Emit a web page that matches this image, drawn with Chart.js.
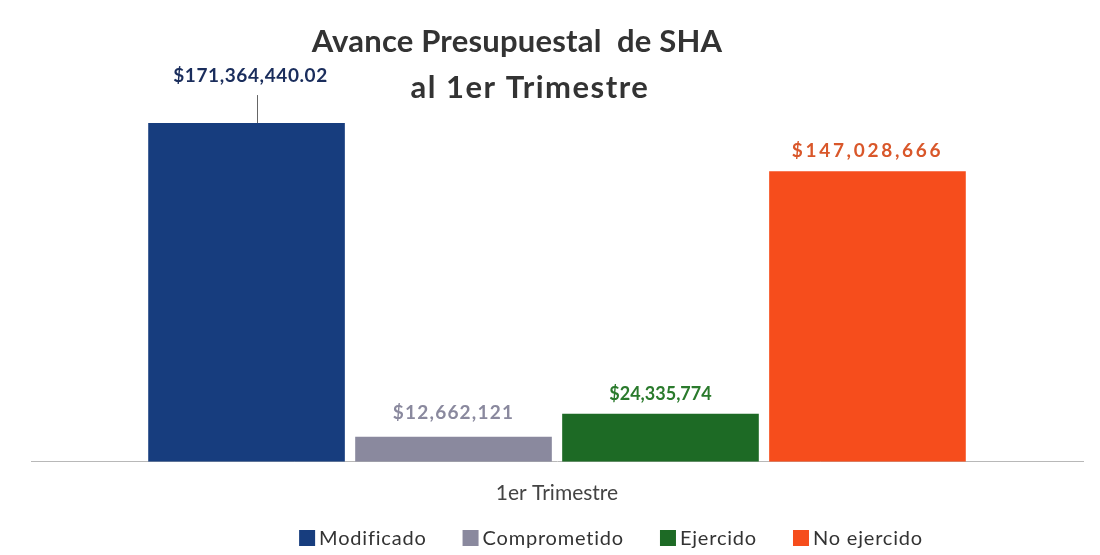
<!DOCTYPE html>
<html>
<head>
<meta charset="utf-8">
<script src="https://cdn.jsdelivr.net/npm/chart.js@4.4.1/dist/chart.umd.min.js"></script>
<style>
  html, body { margin: 0; padding: 0; background: #ffffff; }
  #wrap { width: 1100px; height: 555px; position: relative; }
</style>
</head>
<body>
<div id="wrap"><canvas id="c" width="1100" height="555"></canvas></div>
<script>
const categories = ['1er Trimestre'];
const seriesNames = ['Modificado', 'Comprometido', 'Ejercido', 'No ejercido'];
const seriesValues = [171364440.02, 12662121, 24335774, 147028666];
const valueLabels = ['$171,364,440.02', '$12,662,121', '$24,335,774', '$147,028,666'];
const titleLines = ['Avance Presupuestal  de SHA', 'al 1er Trimestre'];

const barColors = ['#173d7e', '#8a899e', '#1d6a25', '#f64d1c'];
const labelColors = ['#1a2d5c', '#8a899e', '#2a7a2c', '#d9572a'];
const labelSizes = [19, 19, 18, 19];
const labelSpacing = [0.6, 1.2, 0, 2.7];
const labelGap = [47, 24, 20, 20];

const FONT = 'Lato, "Open Sans", sans-serif';

const datasets = seriesNames.map((name, i) => ({
  label: name,
  data: [seriesValues[i]],
  backgroundColor: barColors[i],
  borderWidth: 0
}));

const labelPlugin = {
  id: 'valueLabels',
  afterDatasetsDraw(chart) {
    const ctx = chart.ctx;
    chart.data.datasets.forEach((ds, i) => {
      const el = chart.getDatasetMeta(i).data[0];
      if (!el) return;
      ctx.save();
      ctx.textAlign = 'center';
      ctx.textBaseline = 'middle';
      ctx.fillStyle = labelColors[i];
      ctx.font = 'bold ' + labelSizes[i] + 'px ' + FONT;
      ctx.letterSpacing = labelSpacing[i] + 'px';
      let x = el.x;
      if (i === 0) {
        ctx.strokeStyle = '#666';
        ctx.lineWidth = 1;
        ctx.beginPath();
        ctx.moveTo(Math.round(el.x + 10) + 0.5, el.y);
        ctx.lineTo(Math.round(el.x + 10) + 0.5, el.y - 28);
        ctx.stroke();
        x = el.x + 4;
      }
      ctx.fillText(valueLabels[i], x, el.y - labelGap[i]);
      ctx.restore();
    });
  }
};

const titlePlugin = {
  id: 'manualTitle',
  afterDraw(chart) {
    const ctx = chart.ctx;
    ctx.save();
    ctx.fillStyle = '#333333';
    ctx.textAlign = 'center';
    ctx.textBaseline = 'middle';
    ctx.font = 'bold 31px ' + FONT;
    ctx.letterSpacing = '0.2px';
    ctx.fillText(titleLines[0], 517, 42);
    ctx.letterSpacing = '1.5px';
    ctx.fillText(titleLines[1], 530, 88);
    ctx.restore();
  }
};

const legendPlugin = {
  id: 'manualLegend',
  afterDraw(chart) {
    const ctx = chart.ctx;
    ctx.save();
    ctx.font = '20px ' + FONT;
    ctx.letterSpacing = '0.8px';
    ctx.textBaseline = 'middle';
    ctx.textAlign = 'left';
    const box = 16, boxGap = 4, itemGap = 36, cy = 538;
    const widths = seriesNames.map(n => box + boxGap + ctx.measureText(n).width);
    const total = widths.reduce((a, b) => a + b, 0) + itemGap * (widths.length - 1);
    let x = 611 - total / 2;
    seriesNames.forEach((n, i) => {
      ctx.fillStyle = barColors[i];
      ctx.fillRect(x, cy - box / 2, box, box);
      ctx.fillStyle = '#333333';
      ctx.fillText(n, x + box + boxGap, cy + 1);
      x += widths[i] + itemGap;
    });
    ctx.restore();
  }
};

new Chart(document.getElementById('c'), {
  type: 'bar',
  data: { labels: categories, datasets },
  options: {
    responsive: false,
    animation: false,
    layout: { padding: { top: 106, left: 31, right: 17, bottom: 30 } },
    datasets: { bar: { categoryPercentage: 0.787, barPercentage: 0.95 } },
    scales: {
      x: {
        grid: { display: false, drawTicks: false },
        border: { display: true, color: '#b8b8b8', width: 1 },
        ticks: { color: '#444444', font: { family: FONT, size: 21 }, padding: 19 }
      },
      y: {
        display: false,
        min: 0,
        max: 180000000
      }
    },
    plugins: {
      legend: { display: false },
      title: { display: false },
      tooltip: { enabled: false }
    }
  },
  plugins: [labelPlugin, titlePlugin, legendPlugin]
});
</script>
</body>
</html>
